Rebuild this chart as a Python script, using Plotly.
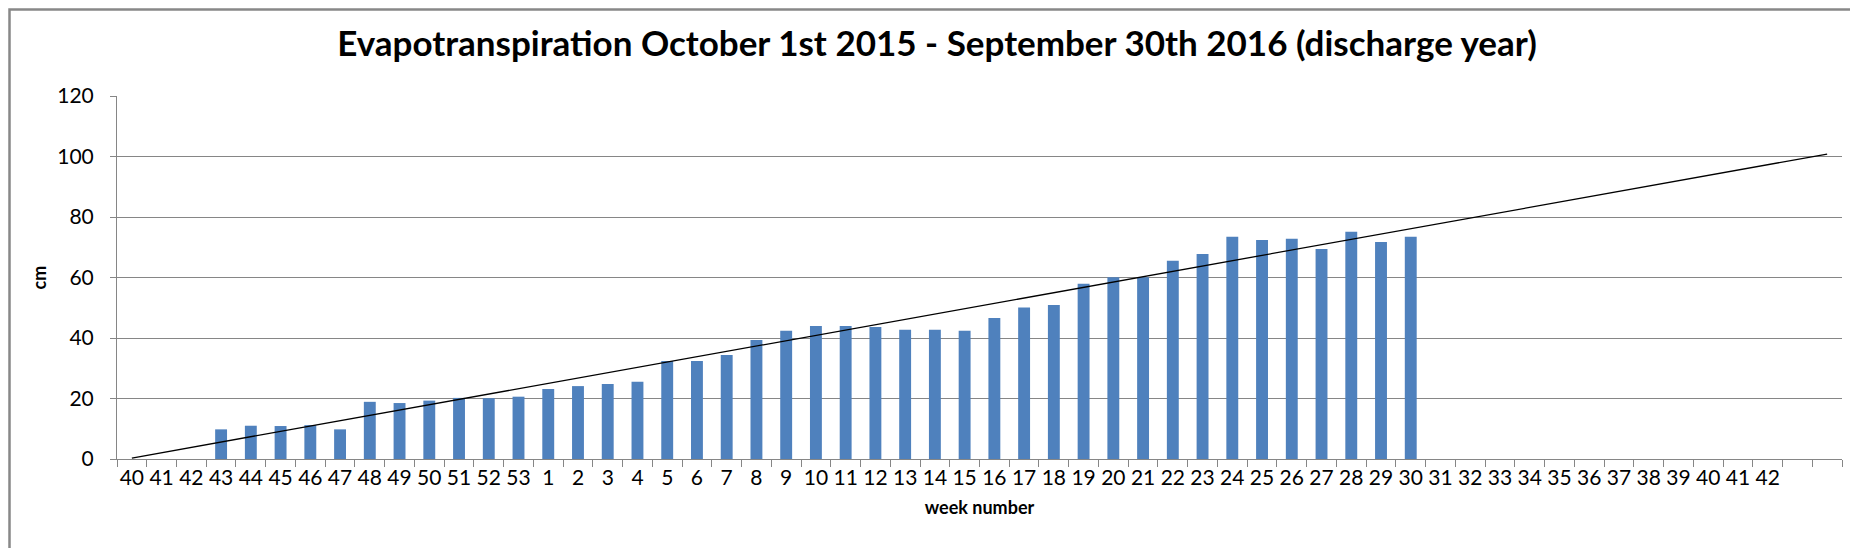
import numpy as np
import plotly.graph_objects as go

# week labels on the x axis (discharge year), two blank slots at the end
week_labels = [str(w) for w in range(40, 54)] + [str(w) for w in range(1, 43)] + ["", ""]

# weekly evapotranspiration in cm (None = no value)
evap_cm = ([None, None, None,
            9.8, 11.0, 10.9, 11.2, 9.8, 18.9, 18.5, 19.3, 20.2, 20.1, 20.6,
            23.1, 24.1, 24.8, 25.5, 32.4, 32.4, 34.4, 39.3, 42.4, 44.0,
            44.0, 43.6, 42.7, 42.7, 42.4, 46.6, 50.1, 50.9, 57.9, 60.1,
            60.1, 65.5, 67.8, 73.5, 72.4, 72.8, 69.4, 75.1, 71.7, 73.5]
           + [None] * 14)

y_ticks = [0, 20, 40, 60, 80, 100, 120]

pos = np.arange(len(week_labels))
vals = np.array([np.nan if v is None else v for v in evap_cm])
ok = ~np.isnan(vals)

# linear trend over the measured weeks, stretched across the whole axis
slope, icpt = np.polyfit(pos[ok], vals[ok], 1)
trend_x = [pos[0], pos[-1]]
trend_y = [icpt + slope * x for x in trend_x]

W, H = 1858, 548
ml, mr, mt, mb = 109, 24, 88, 97

fig = go.Figure()
fig.add_trace(go.Bar(
    x=pos, y=evap_cm,
    marker=dict(color="#4F81BD", line=dict(width=0)),
    showlegend=False,
))
fig.add_trace(go.Scatter(
    x=trend_x, y=trend_y, mode="lines",
    line=dict(color="black", width=1.3),
    showlegend=False,
))

fig.update_layout(
    width=W, height=H,
    margin=dict(l=ml, r=mr, t=mt, b=mb),
    paper_bgcolor="white", plot_bgcolor="white",
    bargap=0.6,
    font=dict(family="Lato", color="black"),
    title=dict(
        text="<b>Evapotranspiration October 1st 2015 - September 30th 2016 (discharge year)</b>",
        x=0.5, xanchor="center", y=1 - 36 / H, yanchor="middle",
        font=dict(size=35, color="black"),
    ),
    xaxis=dict(
        range=[-0.5, len(week_labels) - 0.5],
        tickmode="array", tickvals=pos, ticktext=week_labels,
        ticks="", showgrid=False,
        showline=True, linecolor="#868686", linewidth=1,
        tickfont=dict(size=21),
        ticklabelstandoff=0,
        minor=dict(tick0=-0.5, dtick=1, ticks="outside", ticklen=7,
                   tickcolor="#868686", tickwidth=1, showgrid=False),
        title=dict(text="<b>week number</b>", font=dict(size=18), standoff=13),
        zeroline=False,
    ),
    yaxis=dict(
        range=[0, 120],
        tickmode="array", tickvals=y_ticks,
        ticks="outside", ticklen=6, tickcolor="#868686",
        showgrid=True, gridcolor="#868686", gridwidth=1,
        showline=True, linecolor="#868686", linewidth=1,
        tickfont=dict(size=21),
        ticklabelstandoff=12,
        title=dict(text="<b>cm</b>", font=dict(size=18), standoff=5),
        zeroline=False,
    ),
)

# grey frame around the whole chart
pw, ph = W - ml - mr, H - mt - mb
fig.add_shape(
    type="rect", xref="paper", yref="paper",
    x0=(1.5 - ml) / pw, x1=(W - 1.5 - ml) / pw,
    y0=(1.5 - mb) / ph, y1=(H - mb - 1.5) / ph,
    line=dict(color="#888888", width=2.5),
)

fig.write_html("out.html")
